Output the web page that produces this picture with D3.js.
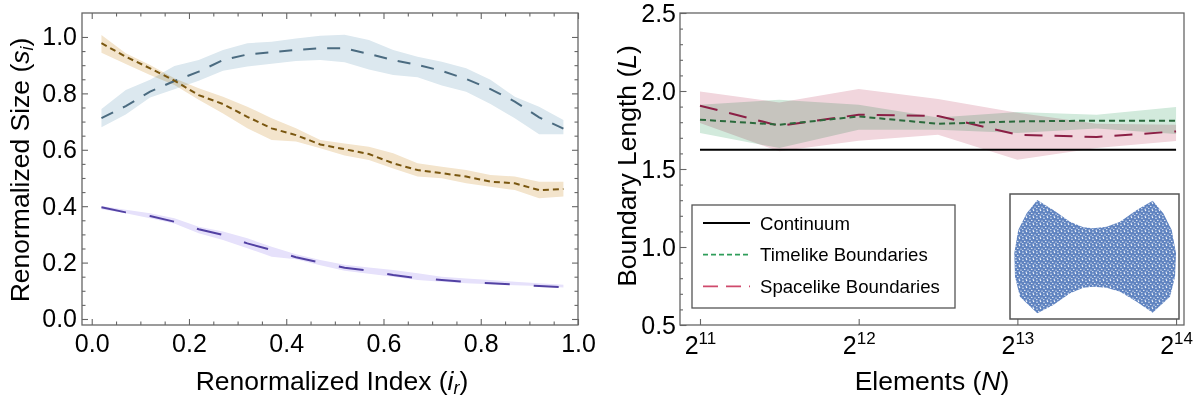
<!DOCTYPE html>
<html>
  <head>
    <meta charset="utf-8"/>
    <title>Renormalized size and boundary length</title>
    <script src="https://cdn.jsdelivr.net/npm/d3@7"></script>
    <style type="text/css">
body {
  margin: 0;
  background: #fff;
}
svg {
  font-family: "Liberation Sans", Arial, sans-serif;
  display: block;
}
.frame {
  fill: none;
  stroke: #666;
  stroke-width: 1.3;
}
.tick line {
  stroke: #666;
  stroke-width: 1.1;
}
.tick text {
  font-size: 25px;
  fill: #000;
}
.band {
  mix-blend-mode: multiply;
}
    </style>
  </head>
  <body>
    <div id="chart"></div>
    <script>
    // left panel: renormalized index
    const ir = [0.02, 0.07, 0.12, 0.17, 0.22, 0.27, 0.32, 0.37, 0.42, 0.47,
                0.52, 0.57, 0.62, 0.67, 0.72, 0.77, 0.82, 0.87, 0.92, 0.97];

    const blueMean = [0.712, 0.755, 0.806, 0.844, 0.877, 0.918, 0.938, 0.946, 0.954, 0.960,
                      0.960, 0.940, 0.918, 0.901, 0.880, 0.851, 0.815, 0.771, 0.715, 0.675];
    const blueHi = [0.745, 0.812, 0.848, 0.897, 0.918, 0.954, 0.978, 0.983, 0.995, 1.004,
                    1.008, 0.989, 0.954, 0.930, 0.912, 0.889, 0.848, 0.788, 0.753, 0.706];
    const blueLo = [0.680, 0.725, 0.785, 0.815, 0.845, 0.880, 0.895, 0.905, 0.915, 0.918,
                    0.910, 0.885, 0.865, 0.857, 0.828, 0.806, 0.762, 0.712, 0.655, 0.655];

    const orangeMean = [0.978, 0.930, 0.889, 0.845, 0.794, 0.762, 0.717, 0.676, 0.652, 0.619,
                        0.602, 0.585, 0.552, 0.528, 0.517, 0.505, 0.487, 0.481, 0.457, 0.461];
    const orangeHi = [1.007, 0.942, 0.901, 0.854, 0.818, 0.788, 0.753, 0.712, 0.676, 0.635,
                      0.622, 0.611, 0.588, 0.552, 0.540, 0.528, 0.511, 0.505, 0.487, 0.487];
    const orangeLo = [0.944, 0.904, 0.865, 0.830, 0.777, 0.729, 0.676, 0.635, 0.629, 0.605,
                      0.580, 0.564, 0.534, 0.505, 0.499, 0.481, 0.469, 0.457, 0.428, 0.434];

    const purpleMean = [0.396, 0.378, 0.365, 0.345, 0.318, 0.298, 0.268, 0.245, 0.219, 0.200,
                        0.182, 0.171, 0.156, 0.145, 0.138, 0.131, 0.127, 0.122, 0.117, 0.113];
    const purpleHi = [0.401, 0.387, 0.375, 0.357, 0.327, 0.310, 0.286, 0.256, 0.230, 0.209,
                      0.192, 0.183, 0.174, 0.162, 0.150, 0.144, 0.138, 0.132, 0.127, 0.121];
    const purpleLo = [0.389, 0.375, 0.357, 0.339, 0.304, 0.280, 0.251, 0.221, 0.212, 0.191,
                      0.171, 0.160, 0.150, 0.138, 0.132, 0.127, 0.123, 0.120, 0.117, 0.112];

    const leftTicks = [0, 0.2, 0.4, 0.6, 0.8, 1.0];

    // right panel: elements N
    const Ns = [2048, 2896, 4096, 5793, 8192, 11585, 16384];
    const continuum = 1.624;
    const timelike = [1.816, 1.784, 1.837, 1.790, 1.805, 1.810, 1.810];
    const timelikeHi = [1.912, 1.944, 1.912, 1.830, 1.865, 1.848, 1.897];
    const timelikeLo = [1.730, 1.634, 1.752, 1.752, 1.730, 1.760, 1.724];
    const spacelike = [1.906, 1.777, 1.848, 1.840, 1.720, 1.705, 1.741];
    const spacelikeHi = [1.997, 1.927, 2.013, 1.949, 1.860, 1.790, 1.784];
    const spacelikeLo = [1.795, 1.613, 1.681, 1.720, 1.560, 1.634, 1.680];
    const rightYTicks = [0.5, 1.0, 1.5, 2.0, 2.5];
    const rightXTicks = [2048, 4096, 8192, 16384];
    const legendLabels = ["Continuum", "Timelike Boundaries", "Spacelike Boundaries"];

    // inset: outline of the sprinkled region (inset units)
    const insetOutline = [
      [-0.706, 1.000], [-0.509, 0.823], [-0.302, 0.616], [-0.138, 0.517], [-0.015, 0.499],
      [0.151, 0.527], [0.315, 0.616], [0.521, 0.823], [0.718, 0.988], [0.849, 0.765],
      [0.953, 0.469], [1.006, 0.057], [0.994, -0.357], [0.932, -0.711], [0.718, -0.994],
      [0.521, -0.800], [0.315, -0.623], [0.151, -0.552], [-0.015, -0.534], [-0.138, -0.552],
      [-0.302, -0.652], [-0.509, -0.858], [-0.706, -1.005], [-0.920, -0.711], [-0.981, -0.357],
      [-0.990, 0.057], [-0.941, 0.469], [-0.837, 0.765]
    ];

    const width = 1199, height = 401;
    const svg = d3.select("#chart").append("svg")
        .attr("width", width)
        .attr("height", height);

    // speckled texture for the sprinkled region
    const defs = svg.append("defs");
    const pat = defs.append("pattern")
        .attr("id", "sprinkle")
        .attr("width", 7).attr("height", 7)
        .attr("patternUnits", "userSpaceOnUse");
    pat.append("rect").attr("width", 7).attr("height", 7).attr("fill", "#5f83c0");
    [[1, 1.2], [4.6, 0.6], [2.8, 3.4], [6, 4.1], [0.8, 5.6], [4.2, 6.2]].forEach(p => {
      pat.append("circle").attr("cx", p[0]).attr("cy", p[1]).attr("r", 0.7).attr("fill", "#f4f7fc");
    });

    function seriesOf(xs, ys) {
      return xs.map((x, i) => [x, ys[i]]);
    }
    function bandOf(xs, lo, hi) {
      return xs.map((x, i) => [x, lo[i], hi[i]]);
    }
    function styleAxis(g) {
      g.select(".domain").remove();
    }

    // ---------- left panel ----------
    const xL = d3.scaleLinear().domain([-0.02, 1.0]).range([82, 578]);
    const yL = d3.scaleLinear().domain([-0.0213, 1.085]).range([325, 13]);

    const left = svg.append("g");

    const areaL = d3.area().x(d => xL(d[0])).y0(d => yL(d[1])).y1(d => yL(d[2]));
    const lineL = d3.line().x(d => xL(d[0])).y(d => yL(d[1]));

    const leftSeries = [
      {lo: blueLo, hi: blueHi, mean: blueMean, band: "#dce8ef", color: "#4b6b80", dash: "13,11"},
      {lo: orangeLo, hi: orangeHi, mean: orangeMean, band: "#f3e4cc", color: "#7a5710", dash: "6,4"},
      {lo: purpleLo, hi: purpleHi, mean: purpleMean, band: "#e6e1fb", color: "#5241a3", dash: "25,24"}
    ];

    leftSeries.forEach(s => {
      left.append("path")
          .attr("class", "band")
          .attr("fill", s.band)
          .attr("d", areaL(bandOf(ir, s.lo, s.hi)));
    });
    leftSeries.forEach(s => {
      left.append("path")
          .attr("fill", "none")
          .attr("stroke", s.color)
          .attr("stroke-width", 2)
          .attr("stroke-dasharray", s.dash)
          .attr("d", lineL(seriesOf(ir, s.mean)));
    });

    const minorL = d3.range(0, 1.0001, 0.05).filter(v => Math.abs(v * 5 - Math.round(v * 5)) > 1e-6);

    left.append("g").attr("transform", "translate(0,325)")
        .call(d3.axisBottom(xL).tickValues(leftTicks).tickSize(-6).tickPadding(9).tickFormat(d3.format(".1f")))
        .call(styleAxis);
    left.append("g").attr("transform", "translate(0,325)")
        .call(d3.axisBottom(xL).tickValues(minorL).tickSize(-3.5).tickFormat(""))
        .call(styleAxis);
    left.append("g").attr("transform", "translate(0,13)")
        .call(d3.axisTop(xL).tickValues(leftTicks).tickSize(-6).tickFormat(""))
        .call(styleAxis);
    left.append("g").attr("transform", "translate(0,13)")
        .call(d3.axisTop(xL).tickValues(minorL).tickSize(-3.5).tickFormat(""))
        .call(styleAxis);
    left.append("g").attr("transform", "translate(82,0)")
        .call(d3.axisLeft(yL).tickValues(leftTicks).tickSize(-6).tickPadding(5).tickFormat(d3.format(".1f")))
        .call(styleAxis);
    left.append("g").attr("transform", "translate(82,0)")
        .call(d3.axisLeft(yL).tickValues(minorL).tickSize(-3.5).tickFormat(""))
        .call(styleAxis);
    left.append("g").attr("transform", "translate(578,0)")
        .call(d3.axisRight(yL).tickValues(leftTicks).tickSize(-6).tickFormat(""))
        .call(styleAxis);
    left.append("g").attr("transform", "translate(578,0)")
        .call(d3.axisRight(yL).tickValues(minorL).tickSize(-3.5).tickFormat(""))
        .call(styleAxis);

    left.append("rect").attr("class", "frame")
        .attr("x", 82).attr("y", 13).attr("width", 578 - 82).attr("height", 325 - 13);

    const xtl = left.append("text")
        .attr("x", 332).attr("y", 390)
        .attr("text-anchor", "middle")
        .attr("font-size", 26.5);
    xtl.append("tspan").text("Renormalized Index (");
    xtl.append("tspan").attr("font-style", "italic").text("i");
    xtl.append("tspan").attr("font-style", "italic").attr("font-size", 18).attr("dy", 4).text("r");
    xtl.append("tspan").attr("dy", -4).text(")");

    const ytl = left.append("text")
        .attr("transform", "translate(29,170) rotate(-90)")
        .attr("text-anchor", "middle")
        .attr("font-size", 26.5);
    ytl.append("tspan").text("Renormalized Size (");
    ytl.append("tspan").attr("font-style", "italic").text("s");
    ytl.append("tspan").attr("font-style", "italic").attr("font-size", 18).attr("dy", 4).text("i");
    ytl.append("tspan").attr("dy", -4).text(")");

    // ---------- right panel ----------
    const xR = d3.scaleLog().base(2).domain([Math.pow(2, 10.874), Math.pow(2, 14.05)]).range([680, 1184]);
    const yR = d3.scaleLinear().domain([0.5, 2.5]).range([325, 13]);

    const right = svg.append("g");

    const areaR = d3.area().x(d => xR(d[0])).y0(d => yR(d[1])).y1(d => yR(d[2]));
    const lineR = d3.line().x(d => xR(d[0])).y(d => yR(d[1]));

    right.append("path").attr("class", "band")
        .attr("fill", "#f1d6dd")
        .attr("d", areaR(bandOf(Ns, spacelikeLo, spacelikeHi)));
    right.append("path").attr("class", "band")
        .attr("fill", "#d2eadc")
        .attr("d", areaR(bandOf(Ns, timelikeLo, timelikeHi)));

    right.append("path")
        .attr("fill", "none").attr("stroke", "#000").attr("stroke-width", 2)
        .attr("d", lineR([[Ns[0], continuum], [Ns[Ns.length - 1], continuum]]));
    right.append("path")
        .attr("fill", "none").attr("stroke", "#8b1f45").attr("stroke-width", 2)
        .attr("stroke-dasharray", "18,12")
        .attr("d", lineR(seriesOf(Ns, spacelike)));
    right.append("path")
        .attr("fill", "none").attr("stroke", "#2b6a3c").attr("stroke-width", 2)
        .attr("stroke-dasharray", "6,4")
        .attr("d", lineR(seriesOf(Ns, timelike)));

    const minorR = d3.range(0.5, 2.5001, 0.1).filter(v => Math.abs(v * 2 - Math.round(v * 2)) > 1e-6);
    right.append("g").attr("transform", "translate(680,0)")
        .call(d3.axisLeft(yR).tickValues(rightYTicks).tickSize(-6.5).tickPadding(4).tickFormat(d3.format(".1f")))
        .call(styleAxis);
    right.append("g").attr("transform", "translate(680,0)")
        .call(d3.axisLeft(yR).tickValues(minorR).tickSize(-3).tickFormat(""))
        .call(styleAxis);
    const xAxisR = right.append("g").attr("transform", "translate(0,325)")
        .call(d3.axisBottom(xR).tickValues(rightXTicks).tickSize(-6).tickPadding(11).tickFormat(""))
        .call(styleAxis);
    xAxisR.selectAll(".tick text").each(function(d) {
      const t = d3.select(this);
      t.append("tspan").text("2");
      t.append("tspan").attr("font-size", 17).attr("dy", -10).text(Math.round(Math.log2(d)));
    });

    right.append("rect").attr("class", "frame")
        .attr("x", 680).attr("y", 13).attr("width", 1184 - 680).attr("height", 325 - 13);

    const xtr = right.append("text")
        .attr("x", 932).attr("y", 390)
        .attr("text-anchor", "middle")
        .attr("font-size", 26.5);
    xtr.append("tspan").text("Elements (");
    xtr.append("tspan").attr("font-style", "italic").text("N");
    xtr.append("tspan").text(")");

    const ytr = right.append("text")
        .attr("transform", "translate(636,166) rotate(-90)")
        .attr("text-anchor", "middle")
        .attr("font-size", 26.5);
    ytr.append("tspan").text("Boundary Length (");
    ytr.append("tspan").attr("font-style", "italic").text("L");
    ytr.append("tspan").text(")");

    // legend
    const legend = right.append("g").attr("transform", "translate(692,205)");
    legend.append("rect")
        .attr("width", 263).attr("height", 103)
        .attr("fill", "#fff").attr("stroke", "#555").attr("stroke-width", 1.3);
    const legendStyles = [
      {color: "#000", dash: null},
      {color: "#2f9d5a", dash: "5,3"},
      {color: "#cf4a6c", dash: "15,8"}
    ];
    legendLabels.forEach((lab, i) => {
      const row = legend.append("g").attr("transform", `translate(0,${18 + i * 31.7})`);
      row.append("line")
          .attr("x1", 11).attr("x2", 58)
          .attr("stroke", legendStyles[i].color).attr("stroke-width", 1.8)
          .attr("stroke-dasharray", legendStyles[i].dash);
      row.append("text")
          .attr("x", 68).attr("dy", "0.35em")
          .attr("font-size", 18.6)
          .text(lab);
    });

    // inset
    const xI = d3.scaleLinear().domain([-1.043, 1.043]).range([1010, 1179]);
    const yI = d3.scaleLinear().domain([-1.106, 1.106]).range([319, 194]);
    const inset = right.append("g");
    inset.append("rect")
        .attr("x", 1010).attr("y", 194).attr("width", 169).attr("height", 125)
        .attr("fill", "#fff").attr("stroke", "#555").attr("stroke-width", 1.5);
    inset.append("path")
        .attr("fill", "url(#sprinkle)")
        .attr("d", d3.line().x(d => xI(d[0])).y(d => yI(d[1])).curve(d3.curveLinearClosed)(insetOutline));
    </script>
  </body>
</html>
